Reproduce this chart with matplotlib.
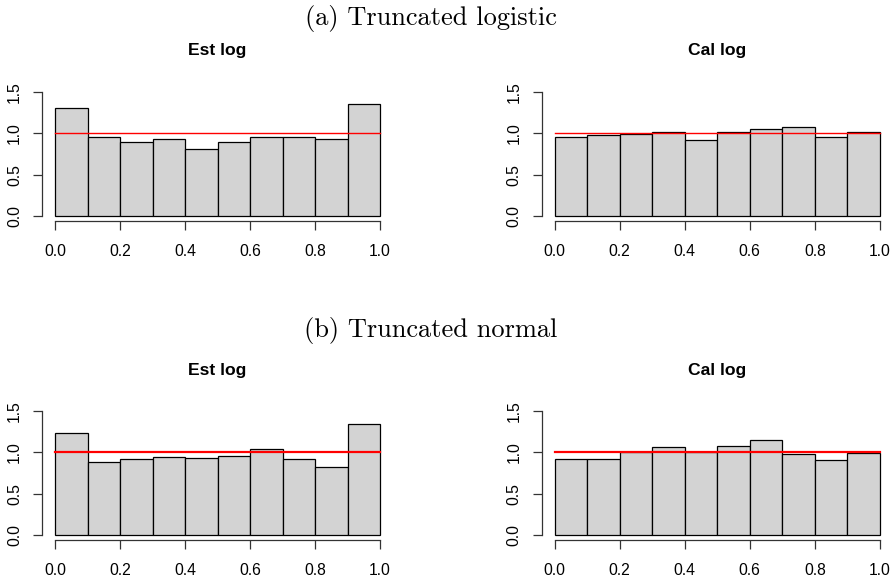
import matplotlib
matplotlib.use("Agg")
import matplotlib.pyplot as plt
import numpy as np

bin_edges = [0.0, 0.1, 0.2, 0.3, 0.4, 0.5, 0.6, 0.7, 0.8, 0.9, 1.0]
est_logistic = [1.30, 0.95, 0.90, 0.93, 0.81, 0.89, 0.96, 0.95, 0.93, 1.35]
cal_logistic = [0.96, 0.975, 0.995, 1.02, 0.92, 1.01, 1.05, 1.08, 0.95, 1.015]
est_normal = [1.237, 0.88, 0.924, 0.94, 0.936, 0.956, 1.044, 0.916, 0.823, 1.337]
cal_normal = [0.916, 0.916, 1.0, 1.06, 1.008, 1.072, 1.153, 0.98, 0.904, 0.988]
panel_titles = ["Est log", "Cal log"]
section_titles = ["(a) Truncated logistic", "(b) Truncated normal"]
xticks = [0.0, 0.2, 0.4, 0.6, 0.8, 1.0]
yticks = [0.0, 0.5, 1.0, 1.5]
ref_level = 1.0

W, H = 896, 582
fig = plt.figure(figsize=(W / 100, H / 100), dpi=100)

def fr(l, r, t, b):
    return [l / W, 1 - b / H, (r - l) / W, (b - t) / H]

panels = [
    (fr(42.3, 393.0, 86.7, 221.3), est_logistic, panel_titles[0], 1.0),
    (fr(541.5, 893.0, 86.7, 221.3), cal_logistic, panel_titles[1], 1.0),
    (fr(42.3, 393.0, 406.0, 540.3), est_normal, panel_titles[0], 1.6),
    (fr(541.5, 893.0, 406.0, 540.3), cal_normal, panel_titles[1], 1.6),
]

tick_font = dict(family=["Liberation Sans", "DejaVu Sans"], size=11.3)

for rect, vals, title, rlw in panels:
    ax = fig.add_axes(rect)
    edges = np.array(bin_edges)
    ax.bar(edges[:-1], vals, width=np.diff(edges), align="edge",
           color="#D3D3D3", edgecolor="black", linewidth=0.9)
    ax.plot([edges[0], edges[-1]], [ref_level, ref_level], color="red", lw=rlw)
    ax.set_xlim(-0.04, 1.04)
    ax.set_ylim(-0.06, 1.56)
    for s in ["top", "right"]:
        ax.spines[s].set_visible(False)
    ax.spines["left"].set_bounds(0, 1.5)
    ax.spines["bottom"].set_bounds(0, 1)
    for s in ["left", "bottom"]:
        ax.spines[s].set_color("#333333")
        ax.spines[s].set_linewidth(0.9)
    ax.set_xticks(xticks)
    ax.set_xticklabels([f"{v:.1f}" for v in xticks], **tick_font)
    ax.set_yticks(yticks)
    ax.set_yticklabels([f"{v:.1f}" for v in yticks], rotation=90, va="center", **tick_font)
    ax.tick_params(axis="both", length=6.5, width=0.9, color="#333333")
    ax.tick_params(axis="x", pad=10)
    ax.tick_params(axis="y", pad=8)
    ax.set_facecolor("none")
    ax.text(0.5, 1.56 + 0.43, title, transform=ax.transData,
            ha="center", va="center", fontsize=12.6, fontweight="bold",
            family=["Liberation Sans", "DejaVu Sans"])

fig.text(431 / W, 1 - 19 / H, section_titles[0], ha="center", va="center",
         family="cmr10", fontsize=19)
fig.text(431 / W, 1 - 330 / H, section_titles[1], ha="center", va="center",
         family="cmr10", fontsize=19)

fig.savefig("out.png", dpi=100)
